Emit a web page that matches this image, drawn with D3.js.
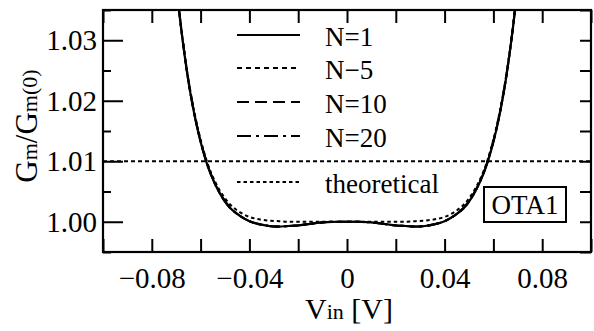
<html>
<head>
<meta charset="utf-8">
<script src="https://cdn.jsdelivr.net/npm/d3@7"></script>
</head>
<body style="margin:0">
<svg id="chart" width="594" height="331"></svg>
<script>
// input voltage samples [V]
const vin = [-0.072, -0.068, -0.064, -0.060, -0.056, -0.052, -0.048, -0.044, -0.040, -0.036,
  -0.032, -0.028, -0.024, -0.020, -0.016, -0.012, -0.008, -0.004, 0,
  0.004, 0.008, 0.012, 0.016, 0.020, 0.024, 0.028, 0.032, 0.036,
  0.040, 0.044, 0.048, 0.052, 0.056, 0.060, 0.064, 0.068, 0.072];

// Gm/Gm(0)
const gm_n1 = [1.0475, 1.0320, 1.0208, 1.0132, 1.0080, 1.0046, 1.0023, 1.0010, 1.0001, 0.9996,
  0.9993, 0.9992, 0.9993, 0.9994, 0.9996, 0.9998, 0.99995, 1.0000, 1.0000,
  1.0000, 0.99995, 0.9998, 0.9996, 0.9994, 0.9993, 0.9992, 0.9993, 0.9996,
  1.0001, 1.0010, 1.0023, 1.0046, 1.0080, 1.0132, 1.0208, 1.0320, 1.0475];
const gm_n5 = [1.0476, 1.0321, 1.0209, 1.0133, 1.0081, 1.0046, 1.0023, 1.0010, 1.0001, 0.9996,
  0.9993, 0.9992, 0.9993, 0.9994, 0.9996, 0.9998, 0.99995, 1.0000, 1.0000,
  1.0000, 0.99995, 0.9998, 0.9996, 0.9994, 0.9993, 0.9992, 0.9993, 0.9996,
  1.0001, 1.0010, 1.0023, 1.0046, 1.0081, 1.0133, 1.0209, 1.0321, 1.0476];
const gm_n10 = [1.0476, 1.0321, 1.0209, 1.0133, 1.0081, 1.0047, 1.0024, 1.0010, 1.0001, 0.9996,
  0.9993, 0.9992, 0.9993, 0.9994, 0.9996, 0.9998, 0.99995, 1.0000, 1.0000,
  1.0000, 0.99995, 0.9998, 0.9996, 0.9994, 0.9993, 0.9992, 0.9993, 0.9996,
  1.0001, 1.0010, 1.0024, 1.0047, 1.0081, 1.0133, 1.0209, 1.0321, 1.0476];
const gm_n20 = [1.0477, 1.0322, 1.0209, 1.0133, 1.0081, 1.0047, 1.0024, 1.0010, 1.0001, 0.9996,
  0.9993, 0.9992, 0.9993, 0.9994, 0.9996, 0.9998, 0.99995, 1.0000, 1.0000,
  1.0000, 0.99995, 0.9998, 0.9996, 0.9994, 0.9993, 0.9992, 0.9993, 0.9996,
  1.0001, 1.0010, 1.0024, 1.0047, 1.0081, 1.0133, 1.0209, 1.0322, 1.0477];
const gm_theory = [1.0477, 1.0322, 1.0212, 1.0136, 1.0084, 1.0051, 1.0029, 1.0016, 1.0008, 1.0004,
  1.0002, 1.0001, 1.0000, 1.0000, 1.0000, 1.0000, 1.0000, 1.0000, 1.0000,
  1.0000, 1.0000, 1.0000, 1.0000, 1.0000, 1.0000, 1.0001, 1.0002, 1.0004,
  1.0008, 1.0016, 1.0029, 1.0051, 1.0084, 1.0136, 1.0212, 1.0322, 1.0477];

const legend_labels = ['N=1', 'N\u22125', 'N=10', 'N=20', 'theoretical'];
const x_ticks = [-0.1, -0.08, -0.06, -0.04, -0.02, 0, 0.02, 0.04, 0.06, 0.08, 0.1];
const x_labels = [-0.08, -0.04, 0, 0.04, 0.08];
const y_major = [1.00, 1.01, 1.02, 1.03];
const y_minor = [0.995, 1.005, 1.015, 1.025, 1.035];
const spec_level = 1.01;

const SERIF = '"Liberation Serif", Tinos, "Times New Roman", "DejaVu Serif", serif';
const plot_left = 103, plot_right = 591, plot_top = 10, plot_bottom = 252;

const svg = d3.select('#chart').attr('font-family', SERIF);

const x = d3.scaleLinear().domain([-0.1, 0.1]).range([plot_left, plot_right]);
const y = d3.scaleLinear().domain([0.995, 1.035]).range([plot_bottom, plot_top]);

svg.append('rect')
  .attr('width', 594).attr('height', 331).attr('fill', '#fff');

svg.append('clipPath').attr('id', 'plot-clip')
  .append('rect')
  .attr('x', plot_left).attr('y', plot_top)
  .attr('width', plot_right - plot_left).attr('height', plot_bottom - plot_top);

const fmt = v => v === 0 ? '0' : d3.format('.2f')(v);
const label_set = new Set(x_labels.map(v => v.toFixed(2)));

// AXES
const xb = svg.append('g')
  .attr('transform', `translate(0,${plot_bottom})`)
  .call(d3.axisBottom(x).tickValues(x_ticks).tickSize(-13).tickPadding(15)
    .tickFormat(v => label_set.has(v.toFixed(2)) ? fmt(v) : ''));
svg.append('g')
  .attr('transform', `translate(0,${plot_top})`)
  .call(d3.axisTop(x).tickValues(x_ticks).tickSize(-13).tickFormat(''));

svg.append('g')
  .attr('transform', `translate(${plot_left},0)`)
  .call(d3.axisLeft(y).tickValues(y_major).tickSize(-20).tickPadding(6)
    .tickFormat(d3.format('.2f')));
svg.append('g')
  .attr('transform', `translate(${plot_left},0)`)
  .call(d3.axisLeft(y).tickValues(y_minor).tickSize(-8).tickFormat(''));
svg.append('g')
  .attr('transform', `translate(${plot_right},0)`)
  .call(d3.axisRight(y).tickValues(y_major.concat(y_minor)).tickSize(-11).tickFormat(''));

svg.selectAll('.domain').remove();
svg.selectAll('g').attr('font-family', SERIF);
svg.selectAll('.tick line').attr('stroke', '#000').attr('stroke-width', 2);
svg.selectAll('.tick text')
  .attr('font-family', SERIF)
  .style('font-family', SERIF)
  .attr('font-size', 29)
  .attr('fill', '#000');
xb.selectAll('.tick text').attr('dy', '0.72em');

// CURVES
const series = [
  { key: 'N=1', values: gm_n1, dash: null, width: 2.2 },
  { key: 'N-5', values: gm_n5, dash: '5,4', width: 2 },
  { key: 'N=10', values: gm_n10, dash: '12,6', width: 2 },
  { key: 'N=20', values: gm_n20, dash: '14,5,3,5', width: 2 },
  { key: 'theoretical', values: gm_theory, dash: '3.5,3', width: 2 }
];

const line = d3.line()
  .x(d => x(d[0]))
  .y(d => y(d[1]))
  .curve(d3.curveCatmullRom);

const plot = svg.append('g').attr('clip-path', 'url(#plot-clip)');

plot.append('line')
  .attr('x1', plot_left).attr('x2', plot_right)
  .attr('y1', y(spec_level)).attr('y2', y(spec_level))
  .attr('stroke', '#000').attr('stroke-width', 2)
  .attr('stroke-dasharray', '4,3');

plot.selectAll('.curve')
  .data(series)
  .enter()
  .append('path')
  .classed('curve', true)
  .attr('fill', 'none')
  .attr('stroke', '#000')
  .attr('stroke-width', d => d.width)
  .attr('stroke-dasharray', d => d.dash)
  .attr('d', d => line(vin.map((v, i) => [v, d.values[i]])));

// LEGEND
const legend_rows = [35, 68, 102, 136, 182];
series.forEach((s, i) => {
  svg.append('line')
    .attr('x1', 237).attr('x2', 300)
    .attr('y1', legend_rows[i]).attr('y2', legend_rows[i])
    .attr('stroke', '#000').attr('stroke-width', 2)
    .attr('stroke-dasharray', s.dash);
  svg.append('text')
    .attr('x', 325)
    .attr('y', legend_rows[i] + 11)
    .attr('font-size', 27)
    .attr('font-family', SERIF)
    .style('font-family', SERIF)
    .text(legend_labels[i]);
});

// OTA1 tag
svg.append('rect')
  .attr('x', 484).attr('y', 187)
  .attr('width', 82).attr('height', 35)
  .attr('fill', '#fff').attr('stroke', '#000').attr('stroke-width', 2);
svg.append('text')
  .attr('x', 525).attr('y', 214)
  .attr('text-anchor', 'middle')
  .attr('font-size', 27)
  .attr('font-family', SERIF)
  .style('font-family', SERIF)
  .text('OTA1');

// AXIS TITLES
const ylab = svg.append('text')
  .attr('transform', 'translate(37,126) rotate(-90)')
  .attr('text-anchor', 'middle')
  .attr('font-size', 31)
  .attr('font-family', SERIF)
  .style('font-family', SERIF);
ylab.append('tspan').text('G');
ylab.append('tspan').attr('font-size', 22).text('m');
ylab.append('tspan').text('/G');
ylab.append('tspan').attr('font-size', 22).text('m(0)');

const xlab = svg.append('text')
  .attr('x', 349).attr('y', 319)
  .attr('text-anchor', 'middle')
  .attr('font-size', 30)
  .attr('font-family', SERIF)
  .style('font-family', SERIF);
xlab.append('tspan').text('V');
xlab.append('tspan').attr('font-size', 22).text('in');
xlab.append('tspan').text(' [V]');

// frame
svg.append('rect')
  .attr('x', plot_left).attr('y', plot_top)
  .attr('width', plot_right - plot_left).attr('height', plot_bottom - plot_top)
  .attr('fill', 'none').attr('stroke', '#000').attr('stroke-width', 2.2);
</script>
</body>
</html>
